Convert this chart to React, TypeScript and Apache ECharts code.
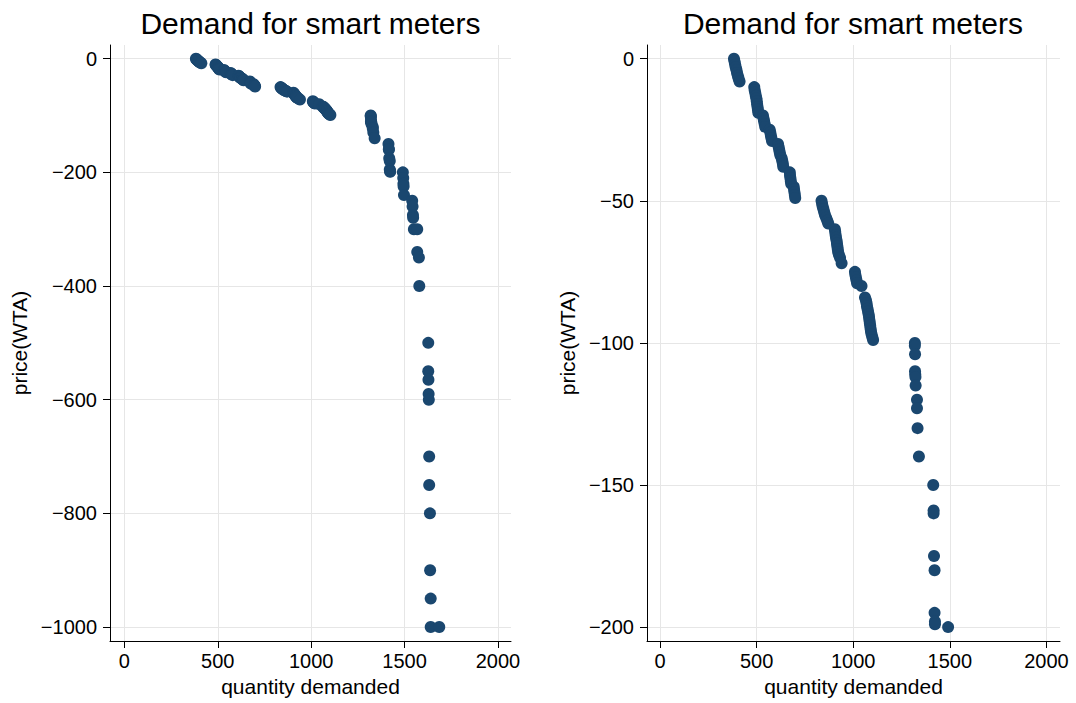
import React, { useEffect, useRef } from "react";
import * as echarts from "echarts";

// price (WTA) and quantity demanded, one entry per point
const price: number[] = [
  0, -1, -2, -3, -4, -5, -6, -7, -8,
  -10, -11, -12, -13, -14, -15, -16, -17, -18, -19,
  -20, -21, -22, -23, -24,
  -25, -26, -27, -28, -29,
  -30, -31, -32, -33, -34, -35, -36, -37, -38,
  -40, -41, -42, -43, -44,
  -45, -46, -47, -48, -49,
  -50, -51, -52, -53, -54, -55, -56, -57, -58,
  -60, -61, -62, -63, -64, -65, -66, -67, -68, -69, -70, -72,
  -75, -76, -77, -78, -79, -80,
  -84, -85, -86, -87, -88, -89, -90, -91, -92, -93, -94, -95, -96, -97, -98, -99,
  -100, -101, -104, -110, -111, -112, -115, -120, -123, -130, -140,
  -150, -159, -160, -175, -180, -195, -198, -199, -200,
  -210, -220, -225, -240, -250, -260, -275, -280, -300, -300, -340, -350, -400,
  -500, -550, -565, -590, -600, -700, -750, -800, -900, -950, -1000, -1000,
];
const quantity: number[] = [
  383, 386, 389, 392, 396, 399, 403, 407, 412,
  488, 490, 493, 496, 499, 501, 503, 505, 507, 509,
  533, 536, 539, 542, 545,
  568, 571, 574, 577, 580,
  611, 614, 617, 620, 623, 630, 633, 636, 638,
  672, 673, 675, 677, 679,
  692, 694, 696, 698, 700,
  836, 839, 842, 846, 850, 854, 860, 866, 871,
  905, 907, 909, 911, 914, 916, 918, 920, 922, 926, 932, 940,
  1009, 1011, 1014, 1017, 1020, 1043,
  1061, 1066, 1069, 1071, 1074, 1077, 1080, 1082, 1084, 1086, 1088, 1090, 1092, 1095, 1099, 1103,
  1319, 1319, 1320, 1320, 1321, 1322, 1323, 1330, 1330, 1333, 1340,
  1414, 1416, 1416, 1418, 1421, 1421, 1423, 1423, 1491,
  1493, 1494, 1495, 1497, 1541, 1543, 1545, 1546, 1550, 1568, 1568, 1577, 1579,
  1627, 1627, 1628, 1629, 1630, 1632, 1632, 1636, 1637, 1640, 1640, 1686,
];

const xTicks: number[] = [0, 500, 1000, 1500, 2000];
const yTicksLeft: number[] = [0, -200, -400, -600, -800, -1000];
const yTicksRight: number[] = [0, -50, -100, -150, -200];
const rightCutoff = -200;

const chartTitle = "Demand for smart meters";
const xName = "quantity demanded";
const yName = "price(WTA)";

const FONT = '"Liberation Sans", Arial, Helvetica, sans-serif';
const MARKER = "#1a476f";
const GRID = "#e6e6e6";

const fmt = (v: number) => String(v).replace("-", "\u2212");

function xAxisOpt(gridIndex: number, min: number, max: number) {
  return {
    type: "value",
    gridIndex,
    min,
    max,
    name: xName,
    nameLocation: "middle",
    nameGap: 32,
    nameTextStyle: { fontSize: 21, color: "#000", fontFamily: FONT },
    axisLine: { show: true, onZero: false, lineStyle: { color: "#000", width: 1 } },
    axisTick: { show: true, length: 7, customValues: xTicks, lineStyle: { color: "#000", width: 1 } },
    axisLabel: { customValues: xTicks, fontSize: 20, color: "#000", fontFamily: FONT, margin: 10, formatter: fmt },
    splitLine: { show: true, lineStyle: { color: GRID, width: 1 } },
  };
}

function yAxisOpt(gridIndex: number, min: number, max: number, ticks: number[], nameGap: number) {
  return {
    type: "value",
    gridIndex,
    min,
    max,
    name: yName,
    nameLocation: "middle",
    nameGap,
    nameTextStyle: { fontSize: 21, color: "#000", fontFamily: FONT },
    axisLine: { show: true, onZero: false, lineStyle: { color: "#000", width: 1 } },
    axisTick: { show: true, length: 7, customValues: ticks, lineStyle: { color: "#000", width: 1 } },
    axisLabel: { customValues: ticks, fontSize: 20, color: "#000", fontFamily: FONT, margin: 13, formatter: fmt },
    splitLine: { show: true, lineStyle: { color: GRID, width: 1 } },
  };
}

export default function App() {
  const ref = useRef<HTMLDivElement>(null);

  useEffect(() => {
    if (!ref.current) return;
    const chart = echarts.init(ref.current, undefined, { renderer: "svg" });

    const allPts = quantity.map((q, i) => [q, price[i]]);
    const rightPts = allPts.filter((p) => p[1] >= rightCutoff);

    chart.setOption({
      animation: false,
      backgroundColor: "#fff",
      textStyle: { fontFamily: FONT },
      grid: [
        { left: 110, top: 45, width: 401, height: 596 },
        { left: 647, top: 45, width: 413, height: 596 },
      ],
      xAxis: [xAxisOpt(0, -77, 2070), xAxisOpt(1, -67, 2070)],
      yAxis: [
        yAxisOpt(0, -1024.6, 24.1, yTicksLeft, 80),
        yAxisOpt(1, -204.9, 4.82, yTicksRight, 69),
      ],
      graphic: [
        {
          type: "text",
          x: 310.5,
          y: 23,
          style: { text: chartTitle, fontSize: 30, fontFamily: FONT, fill: "#000", textAlign: "center", textVerticalAlign: "middle" },
        },
        {
          type: "text",
          x: 853,
          y: 23,
          style: { text: chartTitle, fontSize: 30, fontFamily: FONT, fill: "#000", textAlign: "center", textVerticalAlign: "middle" },
        },
      ],
      series: [
        {
          type: "scatter",
          xAxisIndex: 0,
          yAxisIndex: 0,
          data: allPts,
          symbol: "circle",
          symbolSize: 12,
          itemStyle: { color: MARKER, opacity: 1 },
        },
        {
          type: "scatter",
          xAxisIndex: 1,
          yAxisIndex: 1,
          data: rightPts,
          symbol: "circle",
          symbolSize: 12,
          itemStyle: { color: MARKER, opacity: 1 },
        },
      ],
    });

    return () => chart.dispose();
  }, []);

  return (
    <div
      ref={ref}
      style={{ position: "absolute", left: 0, top: 0, width: 1076, height: 703, background: "#fff" }}
    />
  );
}
